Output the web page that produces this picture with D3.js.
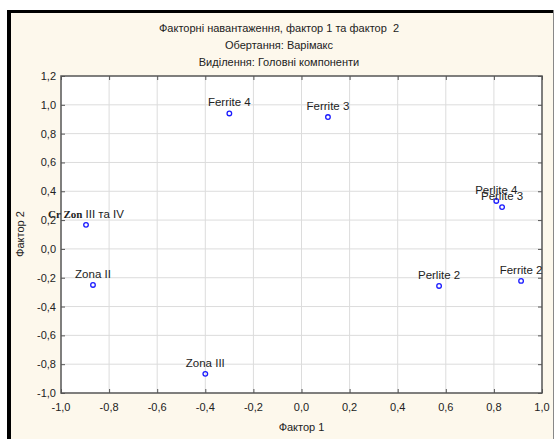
<!DOCTYPE html>
<html>
<head>
<meta charset="utf-8">
<script src="https://cdn.jsdelivr.net/npm/d3@7"></script>
<style>
body { margin: 0; background: #fff; }
text { font-family: "Liberation Sans", Arial, sans-serif; fill: #222; white-space: pre; }
</style>
</head>
<body>
<script>
// factor loadings
var names = ["Ferrite 4", "Ferrite 3", "Cr Zon III та IV", "Zona II", "Zona III", "Perlite 2", "Ferrite 2", "Perlite 4", "Perlite 3"];
var factor1 = [-0.30, 0.11, -0.896, -0.867, -0.40, 0.572, 0.913, 0.81, 0.834];
var factor2 = [0.94, 0.915, 0.167, -0.25, -0.867, -0.257, -0.222, 0.333, 0.29];

var xTicks = [-1, -0.8, -0.6, -0.4, -0.2, 0, 0.2, 0.4, 0.6, 0.8, 1];
var yTicks = [-1, -0.8, -0.6, -0.4, -0.2, 0, 0.2, 0.4, 0.6, 0.8, 1, 1.2];
var titles = ["Факторні навантаження, фактор 1 та фактор  2", "Обертання: Варімакс", "Виділення: Головні компоненти"];

var width = 554, height = 439;
var margin = {left: 61, right: 12, top: 76, bottom: 46};
var w = width - margin.left - margin.right;
var h = height - margin.top - margin.bottom;

var fmt = function(d){ return d3.format(".1f")(d).replace(".", ",").replace("−", "-"); };

var svg = d3.select("body").append("svg").attr("width", width).attr("height", height);

// frame
svg.append("rect").attr("x", 9).attr("y", 12).attr("width", 544).attr("height", 440)
        .attr("fill", "#fdf8ec").attr("stroke", "none");
svg.append("line").attr("x1", 9).attr("x2", 9).attr("y1", 10).attr("y2", height).attr("stroke", "#000").attr("stroke-width", 4);
svg.append("line").attr("x1", 7).attr("x2", 554).attr("y1", 11.5).attr("y2", 11.5).attr("stroke", "#000").attr("stroke-width", 3);
svg.append("line").attr("x1", 553.5).attr("x2", 553.5).attr("y1", 10).attr("y2", height).attr("stroke", "#888").attr("stroke-width", 1);

svg.append("g").selectAll("text")
        .data(titles)
        .enter().append("text")
                .attr("x", 279)
                .attr("y", function(d, i){ return 32 + i * 17; })
                .attr("text-anchor", "middle")
                .attr("font-size", "11px")
                .text(function(d){ return d; });

var x = d3.scaleLinear().domain([-1, 1]).range([0, w]);
var y = d3.scaleLinear().domain([-1, 1.2]).range([h, 0]);

var chartGroup = svg.append("g").attr("transform", "translate(" + margin.left + "," + margin.top + ")");

chartGroup.append("rect").attr("width", w).attr("height", h).attr("fill", "#fff");

// grid
chartGroup.selectAll("line.vgrid")
        .data(xTicks.slice(1, -1))
        .enter().append("line")
                .attr("class", "vgrid")
                .attr("x1", function(d){ return x(d); }).attr("x2", function(d){ return x(d); })
                .attr("y1", 0).attr("y2", h)
                .attr("stroke", "#dcdcdc");
chartGroup.selectAll("line.hgrid")
        .data(yTicks.slice(1, -1))
        .enter().append("line")
                .attr("class", "hgrid")
                .attr("y1", function(d){ return y(d); }).attr("y2", function(d){ return y(d); })
                .attr("x1", 0).attr("x2", w)
                .attr("stroke", "#dcdcdc");

// axes with inward ticks
var axBottom = chartGroup.append("g").attr("transform", "translate(0," + h + ")")
        .call(d3.axisTop(x).tickValues(xTicks).tickSize(4).tickFormat(""));
var axTop = chartGroup.append("g").call(d3.axisBottom(x).tickValues(xTicks).tickSize(4).tickFormat(""));
var axLeft = chartGroup.append("g").call(d3.axisRight(y).tickValues(yTicks).tickSize(4).tickFormat(""));
var axRight = chartGroup.append("g").attr("transform", "translate(" + w + ",0)")
        .call(d3.axisLeft(y).tickValues(yTicks).tickSize(4).tickFormat(""));
[axBottom, axTop, axLeft, axRight].forEach(function(g){
        g.select(".domain").remove();
        g.selectAll("line").attr("stroke", "#555");
});

chartGroup.append("rect").attr("width", w).attr("height", h)
        .attr("fill", "none").attr("stroke", "#555").attr("stroke-width", 1.5);

// tick labels
chartGroup.append("g").selectAll("text")
        .data(xTicks)
        .enter().append("text")
                .attr("x", function(d){ return x(d); })
                .attr("y", h + 18)
                .attr("text-anchor", "middle")
                .attr("font-size", "11px")
                .text(fmt);
chartGroup.append("g").selectAll("text")
        .data(yTicks)
        .enter().append("text")
                .attr("x", -5)
                .attr("y", function(d){ return y(d) + 4; })
                .attr("text-anchor", "end")
                .attr("font-size", "11px")
                .text(fmt);

// axis titles
svg.append("text").attr("x", 301.5).attr("y", 431).attr("text-anchor", "middle")
        .attr("font-size", "11px").text("Фактор 1");
svg.append("text").attr("transform", "translate(24,234) rotate(-90)").attr("text-anchor", "middle")
        .attr("font-size", "11px").text("Фактор 2");

// points
var pts = names.map(function(n, i){ return {name: n, f1: factor1[i], f2: factor2[i]}; });

chartGroup.selectAll("circle")
        .data(pts)
        .enter().append("circle")
                .attr("cx", function(d){ return x(d.f1); })
                .attr("cy", function(d){ return y(d.f2); })
                .attr("r", 2.3)
                .attr("fill", "none")
                .attr("stroke", "#1a1aff")
                .attr("stroke-width", 1.3);

var labels = chartGroup.selectAll("text.lbl")
        .data(pts)
        .enter().append("text")
                .attr("class", "lbl")
                .attr("x", function(d){ return x(d.f1); })
                .attr("y", function(d){ return y(d.f2) - 7; })
                .attr("text-anchor", "middle")
                .attr("font-size", "11.5px");
labels.each(function(d){
        var t = d3.select(this);
        if (d.name.indexOf("Cr Zon") === 0) {
                t.append("tspan").attr("font-family", "Liberation Serif, serif").attr("font-weight", "bold").attr("font-size", "11px").text("Cr Zon");
                t.append("tspan").text(d.name.slice(6));
        } else {
                t.text(d.name);
        }
});
</script>
</body>
</html>
